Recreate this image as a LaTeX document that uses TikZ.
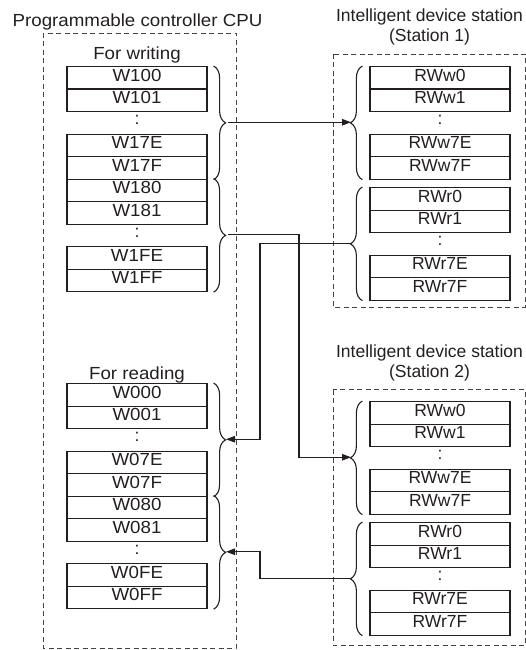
\documentclass[tikz,border=0pt]{standalone}
\usepackage{fontspec}
\setmainfont{Liberation Sans}
\newfontfamily\widesans{Liberation Sans}[FakeStretch=1.07]
\usetikzlibrary{arrows.meta,decorations.pathreplacing}
\definecolor{ink}{HTML}{231F20}

\tikzset{cell/.style={draw=ink,line width=1.2pt,anchor=north,minimum width=140pt,minimum height=22.5pt,inner sep=0pt,text height=0.72em,text depth=0pt},
cpu/.style={font=\fontsize{17.5}{21}\widesans},
gap dots/.style={inner sep=0pt,text height=0.52em,text depth=0pt},
title/.style={anchor=base,inner sep=0pt},
dashed box/.style={draw=ink!85,line width=0.9pt,dash pattern=on 5pt off 3.5pt},
brace/.style={decorate,decoration={brace,amplitude=12pt},draw=ink,line width=1.1pt},
link/.style={draw=ink,line width=1.1pt,-{Triangle[length=9pt,width=6.5pt]}}}

\begin{document}
\begin{tikzpicture}[x=1pt,y=-1pt,line width=1pt,text=ink,font=\fontsize{17.5}{21}\selectfont]
%   CPU                      station 1
%   W100..W17F  }----------->{ RWw0..RWw7F
%   W180..W1FF  }--+      +--{ RWr0..RWr7F
%                  |      |
%   W000..W07F  }<-|------+   station 2
%                  +-------->{ RWw0..RWw7F
%   W080..W0FF  }<--------+--{ RWr0..RWr7F

\useasboundingbox (0,0) rectangle (526,650);

%% dashed boxes
\draw[dashed box] (43,33) rectangle (236,648);
\draw[dashed box] (333,54) rectangle (525,307);
\draw[dashed box] (333,389.5) rectangle (525,645.5);

%% titles
\node[title,cpu] (tcpu) at (137.5,26.5) {Programmable controller CPU};
\node[title] (tst1a) at (429.5,21.7) {Intelligent device station};
\node[title] (tst1b) at (429.5,41.7) {(Station 1)};
\node[title] (tst2a) at (429.5,357.2) {Intelligent device station};
\node[title] (tst2b) at (429.5,377.2) {(Station 2)};
\node[title,cpu] (twr) at (137,60) {For writing};
\node[title,cpu] (trd) at (137,379) {For reading};

%% CPU cells, for writing
\node[cell,cpu] (w100) at (137,66) {W100};
\node[cell,cpu] (w101) at (137,88.5) {W101};
\node[cell,cpu] (w17e) at (137,133.5) {W17E};
\node[cell,cpu] (w17f) at (137,156) {W17F};
\node[cell,cpu] (w180) at (137,178.5) {W180};
\node[cell,cpu] (w181) at (137,201) {W181};
\node[cell,cpu] (w1fe) at (137,246) {W1FE};
\node[cell,cpu] (w1ff) at (137,268.5) {W1FF};

%% CPU cells, for reading
\node[cell,cpu] (w000) at (137,383) {W000};
\node[cell,cpu] (w001) at (137,405.5) {W001};
\node[cell,cpu] (w07e) at (137,450.5) {W07E};
\node[cell,cpu] (w07f) at (137,473) {W07F};
\node[cell,cpu] (w080) at (137,495.5) {W080};
\node[cell,cpu] (w081) at (137,518) {W081};
\node[cell,cpu] (w0fe) at (137,563) {W0FE};
\node[cell,cpu] (w0ff) at (137,585.5) {W0FF};

%% station 1 cells
\node[cell] (s1ww0) at (440,66) {RWw0};
\node[cell] (s1ww1) at (440,88.5) {RWw1};
\node[cell] (s1ww7e) at (440,133.5) {RWw7E};
\node[cell] (s1ww7f) at (440,156) {RWw7F};
\node[cell] (s1wr0) at (440,187) {RWr0};
\node[cell] (s1wr1) at (440,209.5) {RWr1};
\node[cell] (s1wr7e) at (440,254.5) {RWr7E};
\node[cell] (s1wr7f) at (440,277) {RWr7F};

%% station 2 cells
\node[cell] (s2ww0) at (440,401) {RWw0};
\node[cell] (s2ww1) at (440,423.5) {RWw1};
\node[cell] (s2ww7e) at (440,468.5) {RWw7E};
\node[cell] (s2ww7f) at (440,491) {RWw7F};
\node[cell] (s2wr0) at (440,522) {RWr0};
\node[cell] (s2wr1) at (440,544.5) {RWr1};
\node[cell] (s2wr7e) at (440,589.5) {RWr7E};
\node[cell] (s2wr7f) at (440,612) {RWr7F};

%% dots in the gaps
\node[gap dots] (d1) at (137,122.25) {:};
\node[gap dots] (d2) at (137,234.75) {:};
\node[gap dots] (d3) at (137,439.25) {:};
\node[gap dots] (d4) at (137,551.75) {:};
\node[gap dots] (d5) at (440,122.25) {:};
\node[gap dots] (d6) at (440,243.25) {:};
\node[gap dots] (d7) at (440,457.25) {:};
\node[gap dots] (d8) at (440,578.25) {:};

%% braces
\draw[brace] ([xshift=6pt]w100.north east) -- ([xshift=6pt]w17f.south east);
\draw[brace] ([xshift=6pt]w180.north east) -- ([xshift=6pt]w1ff.south east);
\draw[brace] ([xshift=6pt]w000.north east) -- ([xshift=6pt]w07f.south east);
\draw[brace] ([xshift=6pt]w080.north east) -- ([xshift=6pt]w0ff.south east);
\draw[brace] ([xshift=-7pt]s1ww7f.south west) -- ([xshift=-7pt]s1ww0.north west);
\draw[brace] ([xshift=-7pt]s1wr7f.south west) -- ([xshift=-7pt]s1wr0.north west);
\draw[brace] ([xshift=-7pt]s2ww7f.south west) -- ([xshift=-7pt]s2ww0.north west);
\draw[brace] ([xshift=-7pt]s2wr7f.south west) -- ([xshift=-7pt]s2wr0.north west);

%% brace tips and bends
\coordinate (lw1) at (228,122.25);
\coordinate (lw2) at (228,234.75);
\coordinate (lr1) at (226,439.25);
\coordinate (lr2) at (226,551.75);
\coordinate (s1w) at (351,122.25);
\coordinate (s1r) at (351,243.25);
\coordinate (s2w) at (351,457.25);
\coordinate (s2r) at (351,578.25);
\coordinate (bendb) at (299,300);
\coordinate (bendc) at (260,300);
\coordinate (bendd) at (260,560);

%% connectors
\draw[link] (lw1) -- (s1w);
\draw[link] (lw2) -| (bendb) |- (s2w);
\draw[link] (s1r) -| (bendc) |- (lr1);
\draw[link] (s2r) -| (bendd) |- (lr2);

\end{tikzpicture}
\end{document}
